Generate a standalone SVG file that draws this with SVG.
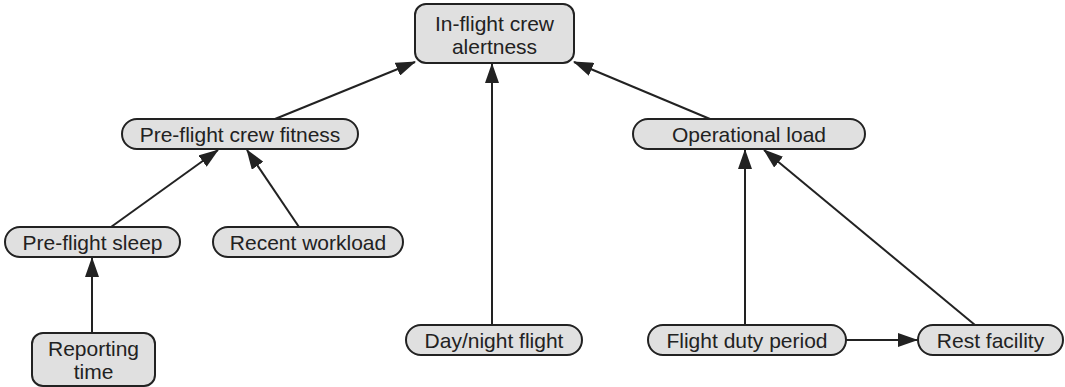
<svg xmlns="http://www.w3.org/2000/svg" width="1065" height="387" viewBox="0 0 1065 387">
<style>
.box{fill:#e0e0e0;stroke:#222;stroke-width:2}
.lbl{font-family:"Liberation Sans",Arial,sans-serif;font-size:21px;fill:#222;text-anchor:middle}
.edge{stroke:#222;stroke-width:2;fill:none;marker-end:url(#ah)}
</style>
<defs>
<marker id="ah" markerWidth="20" markerHeight="14" refX="19" refY="7" orient="auto" markerUnits="userSpaceOnUse">
<path d="M0,0 L20,7 L0,14 z" fill="#222"/>
</marker>
</defs>
<rect width="1065" height="387" fill="#fff"/>
<g id="connectors">
<line class="edge" x1="275" y1="119" x2="415" y2="62"/>
<line class="edge" x1="492" y1="325" x2="492" y2="64"/>
<line class="edge" x1="710" y1="119" x2="574" y2="62"/>
<line class="edge" x1="111" y1="227" x2="218" y2="150"/>
<line class="edge" x1="299" y1="227" x2="247" y2="150"/>
<line class="edge" x1="92" y1="333" x2="92" y2="258"/>
<line class="edge" x1="745" y1="325" x2="745" y2="150"/>
<line class="edge" x1="975" y1="325" x2="764" y2="150"/>
<line class="edge" x1="846" y1="340" x2="917" y2="340"/>
</g>
<g id="n-alertness">
<rect class="box" x="415" y="4" width="159" height="59" rx="11"/>
<text class="lbl" x="494.5" y="31">In-flight crew</text>
<text class="lbl" x="494.5" y="54">alertness</text>
</g>
<g id="n-fitness">
<rect class="box" x="122" y="119" width="236" height="30" rx="15"/>
<text class="lbl" x="240" y="141.5">Pre-flight crew fitness</text>
</g>
<g id="n-opload">
<rect class="box" x="633" y="119" width="232" height="30" rx="15"/>
<text class="lbl" x="749" y="141.5">Operational load</text>
</g>
<g id="n-sleep">
<rect class="box" x="5" y="227" width="175" height="30" rx="15"/>
<text class="lbl" x="92.5" y="249.5">Pre-flight sleep</text>
</g>
<g id="n-workload">
<rect class="box" x="213" y="227" width="190" height="30" rx="15"/>
<text class="lbl" x="308" y="249.5">Recent workload</text>
</g>
<g id="n-reporting">
<rect class="box" x="32" y="333" width="123" height="53" rx="11"/>
<text class="lbl" x="93.5" y="356">Reporting</text>
<text class="lbl" x="93.5" y="379">time</text>
</g>
<g id="n-daynight">
<rect class="box" x="406" y="325" width="176" height="30" rx="15"/>
<text class="lbl" x="494" y="347.5">Day/night flight</text>
</g>
<g id="n-fdp">
<rect class="box" x="648" y="325" width="198" height="30" rx="15"/>
<text class="lbl" x="747" y="347.5">Flight duty period</text>
</g>
<g id="n-rest">
<rect class="box" x="918" y="325" width="145" height="30" rx="15"/>
<text class="lbl" x="990.5" y="347.5">Rest facility</text>
</g>
</svg>
